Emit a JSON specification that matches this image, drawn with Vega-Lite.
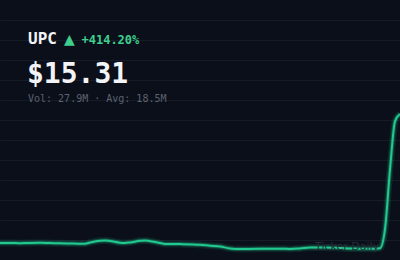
{
  "$schema": "https://vega.github.io/schema/vega-lite/v6.json",
  "width": 400,
  "height": 260,
  "autosize": {"type": "fit", "contains": "padding"},
  "padding": 0,
  "background": "#0b0f1a",
  "config": {"view": {"stroke": null},
    "axisY": {"grid": true, "labels": false, "ticks": false, "domain": false, "title": null,
      "gridColor": "#161b28", "gridWidth": 1, "minExtent": 0, "maxExtent": 0, "offset": 0, "labelPadding": 0, "tickSize": 0}},
  "datasets": {
    "prices": [
      {"day": 0, "price": 2.97}, {"day": 2, "price": 2.97}, {"day": 4, "price": 2.96},
      {"day": 6, "price": 2.98}, {"day": 8, "price": 2.99}, {"day": 10, "price": 2.97},
      {"day": 12, "price": 2.95}, {"day": 14, "price": 2.93}, {"day": 16, "price": 2.9},
      {"day": 17, "price": 2.91}, {"day": 18, "price": 3.02}, {"day": 20, "price": 3.19},
      {"day": 21, "price": 3.22}, {"day": 22, "price": 3.17}, {"day": 24, "price": 3.0},
      {"day": 25, "price": 2.98}, {"day": 26, "price": 3.03}, {"day": 28, "price": 3.18},
      {"day": 29, "price": 3.22}, {"day": 31, "price": 3.07}, {"day": 33, "price": 2.89},
      {"day": 36, "price": 2.87}, {"day": 40, "price": 2.81}, {"day": 42, "price": 2.72},
      {"day": 44, "price": 2.64}, {"day": 46, "price": 2.46}, {"day": 48, "price": 2.41},
      {"day": 52, "price": 2.42}, {"day": 56, "price": 2.43}, {"day": 58, "price": 2.4},
      {"day": 60, "price": 2.45}, {"day": 62, "price": 2.54}, {"day": 64, "price": 2.54},
      {"day": 68, "price": 2.5}, {"day": 70, "price": 2.46}, {"day": 74, "price": 2.43},
      {"day": 76, "price": 2.48}, {"day": 77, "price": 4.3}, {"day": 78, "price": 10.0},
      {"day": 79, "price": 14.6}, {"day": 80, "price": 15.31}
    ]
  },
  "layer": [
    {"data": {"name": "prices"},
     "encoding": {
       "x": {"field": "day", "type": "quantitative", "scale": {"domain": [0, 80], "nice": false, "zero": false}, "axis": null},
       "y": {"field": "price", "type": "quantitative", "scale": {"domain": [1.35, 26.2], "nice": false, "zero": false},
         "axis": {"values": [24.29, 22.377, 20.465, 18.554, 16.642, 14.73, 12.819, 10.907, 8.996, 7.084, 5.173, 3.261]}}
     },
     "layer": [
       {"mark": {"type": "line", "interpolate": "monotone", "color": "#1ec48c", "strokeWidth": 7, "opacity": 0.12, "clip": true}},
       {"mark": {"type": "line", "interpolate": "monotone", "color": "#1ec48c", "strokeWidth": 4, "opacity": 0.3, "clip": true}},
       {"mark": {"type": "line", "interpolate": "monotone", "color": "#22c98f", "strokeWidth": 2, "clip": true}}
     ]},
    {"data": {"values": [{"label": "UPC"}]},
     "mark": {"type": "text", "font": "DejaVu Sans Mono", "fontWeight": "bold", "fontSize": 16, "color": "#f2f4f7", "align": "left", "baseline": "alphabetic"},
     "encoding": {"text": {"field": "label"}, "x": {"datum": 5.6},
       "y": {"datum": 21.99, "axis": {"values": [24.29, 22.377, 20.465, 18.554, 16.642, 14.73, 12.819, 10.907, 8.996, 7.084, 5.173, 3.261]}}}},
    {"data": {"values": [{"label": "▲"}]},
     "mark": {"type": "text", "font": "DejaVu Sans", "fontSize": 14, "color": "#3ecf8e", "align": "left", "baseline": "alphabetic"},
     "encoding": {"text": {"field": "label"}, "x": {"datum": 12.8},
       "y": {"datum": 21.95, "axis": {"values": [24.29, 22.377, 20.465, 18.554, 16.642, 14.73, 12.819, 10.907, 8.996, 7.084, 5.173, 3.261]}}}},
    {"data": {"values": [{"label": "+414.20%"}]},
     "mark": {"type": "text", "font": "DejaVu Sans Mono", "fontWeight": "bold", "fontSize": 12, "color": "#3ecf8e", "align": "left", "baseline": "alphabetic"},
     "encoding": {"text": {"field": "label"}, "x": {"datum": 16.3},
       "y": {"datum": 21.99, "axis": {"values": [24.29, 22.377, 20.465, 18.554, 16.642, 14.73, 12.819, 10.907, 8.996, 7.084, 5.173, 3.261]}}}},
    {"data": {"values": [{"label": "$15.31"}]},
     "mark": {"type": "text", "font": "DejaVu Sans Mono", "fontWeight": "bold", "fontSize": 28, "color": "#f2f4f7", "align": "left", "baseline": "alphabetic"},
     "encoding": {"text": {"field": "label"}, "x": {"datum": 5.4},
       "y": {"datum": 18.31, "axis": {"values": [24.29, 22.377, 20.465, 18.554, 16.642, 14.73, 12.819, 10.907, 8.996, 7.084, 5.173, 3.261]}}}},
    {"data": {"values": [{"label": "Vol: 27.9M · Avg: 18.5M"}]},
     "mark": {"type": "text", "font": "DejaVu Sans Mono", "fontSize": 10, "color": "#5c6270", "align": "left", "baseline": "alphabetic"},
     "encoding": {"text": {"field": "label"}, "x": {"datum": 5.6},
       "y": {"datum": 16.45, "axis": {"values": [24.29, 22.377, 20.465, 18.554, 16.642, 14.73, 12.819, 10.907, 8.996, 7.084, 5.173, 3.261]}}}},
    {"data": {"values": [{"label": "Ticker Daily"}]},
     "mark": {"type": "text", "font": "DejaVu Sans", "fontSize": 11, "color": "#272d39", "align": "left", "baseline": "alphabetic"},
     "encoding": {"text": {"field": "label"}, "x": {"datum": 63},
       "y": {"datum": 2.35, "axis": {"values": [24.29, 22.377, 20.465, 18.554, 16.642, 14.73, 12.819, 10.907, 8.996, 7.084, 5.173, 3.261]}}}}
  ]
}
